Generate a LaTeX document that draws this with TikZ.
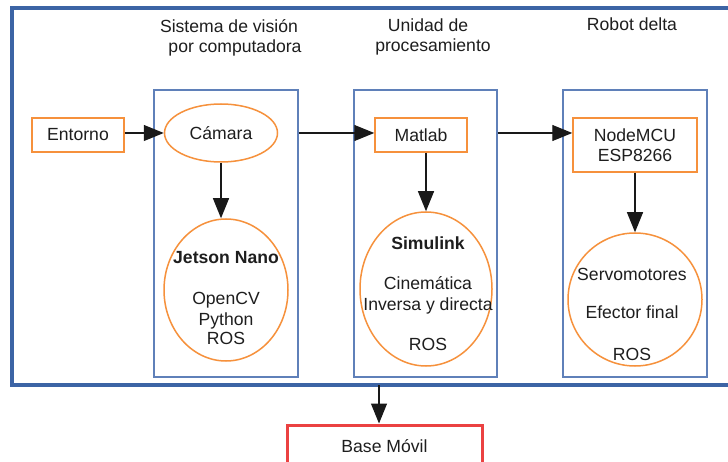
\documentclass[tikz,border=0pt]{standalone}
\usepackage{fontspec}
\setmainfont{Liberation Sans}
\usetikzlibrary{shapes.geometric,arrows.meta}
\definecolor{orng}{RGB}{246,145,60}
\definecolor{bblue}{RGB}{95,128,185}
\definecolor{oblue}{RGB}{60,100,165}
\definecolor{redb}{RGB}{235,65,65}
\definecolor{txt}{RGB}{30,30,30}
\definecolor{arrc}{RGB}{25,25,25}
\begin{document}
\begin{tikzpicture}[x=1pt,y=-1pt, font=\fontsize{17.6}{20}\selectfont, text=txt,
 obox/.style={draw=orng, line width=1.5pt, rectangle, inner sep=0pt, align=center},
 oell/.style={draw=orng, line width=1.5pt, ellipse, inner sep=0pt},
 bbox/.style={draw=bblue, line width=1.6pt, rectangle, inner sep=0pt},
 arr/.style={draw=arrc, line width=1.2pt, -{Triangle[length=20pt,width=16pt]}},
 lbl/.style={anchor=base, inner sep=0pt}]
\useasboundingbox (0,0) rectangle (728,462);
\clip (0,0) rectangle (728,462);
\fill[white] (0,0) rectangle (728,462);
% outer frame
\draw[draw=oblue, line width=3.5pt] (12,8) rectangle (750,385);
\coordinate (fb) at (379,385);
% titles
\node[lbl] (t1a) at (229,33) {Sistema de visión};
\node[lbl] (t1b) at (235,53) {por computadora};
\node[lbl] (t2a) at (428,32) {Unidad de};
\node[lbl] (t2b) at (433,52) {procesamiento};
\node[lbl] (t3) at (632,31) {Robot delta};
% inner boxes
\node[bbox, minimum width=144pt, minimum height=287pt] (box1) at (226,233.5) {};
\node[bbox, minimum width=143pt, minimum height=287pt] (box2) at (425.5,233.5) {};
\node[bbox, minimum width=144pt, minimum height=287pt] (box3) at (635,233.5) {};
% nodes
\node[obox, minimum width=92pt, minimum height=34pt] (ent) at (78,135) {Entorno};
\node[oell, minimum width=113pt, minimum height=58pt] (cam) at (221,133) {Cámara};
\node[oell, minimum width=124pt, minimum height=142pt] (jet) at (226,290) {};
\node[obox, minimum width=92pt, minimum height=34pt] (mat) at (421,135) {Matlab};
\node[oell, minimum width=132pt, minimum height=154pt] (sim) at (426,289) {};
\node[obox, minimum width=124pt, minimum height=54pt] (nod) at (635,145) {NodeMCU\\ESP8266};
\node[oell, minimum width=134pt, minimum height=133pt] (ser) at (635,299.5) {};
\node[draw=redb, line width=3pt, rectangle, minimum width=195pt, minimum height=42pt, inner sep=0pt] (base) at (384.5,446) {Base Móvil};
% ellipse texts
\node[lbl] (j1) at (226,264) {\bfseries Jetson Nano};
\node[lbl] (j2) at (226,305) {OpenCV};
\node[lbl] (j3) at (226,325) {Python};
\node[lbl] (j4) at (226,344) {ROS};
\node[lbl] (s1) at (428,250) {\bfseries Simulink};
\node[lbl] (s2) at (428,290) {Cinemática};
\node[lbl] (s3) at (428,310) {Inversa y directa};
\node[lbl] (s4) at (428,350) {ROS};
\node[lbl] (r1) at (632,280) {Servomotores};
\node[lbl] (r2) at (632,319) {Efector final};
\node[lbl] (r3) at (632,360) {ROS};
% connectors
\draw[arr] (ent.east |- cam.west) -- (cam.west);
\draw[arr] (box1.east |- cam.west) -- (mat.west |- cam.west);
\draw[arr] (box2.east |- cam.west) -- (nod.west |- cam.west);
\draw[arr] (cam.south) -- (cam.south |- jet.north);
\draw[arr] (sim.north |- mat.south) -- (sim.north);
\draw[arr] (nod.south) -- (nod.south |- ser.north);
\draw[arr] (fb) -- (fb |- base.north);
\end{tikzpicture}
\end{document}
